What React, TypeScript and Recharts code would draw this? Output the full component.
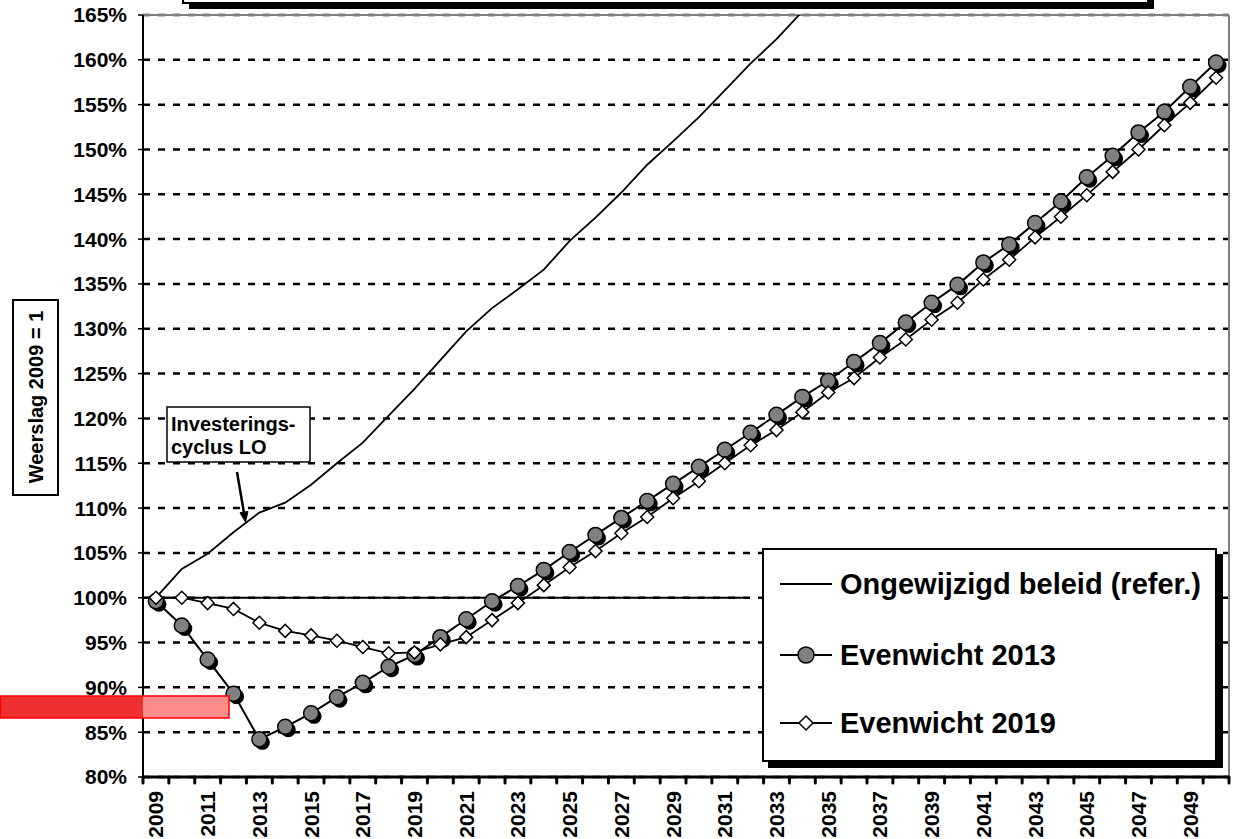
import React from 'react';
import { LineChart, Line, XAxis, YAxis, CartesianGrid, ReferenceLine, Legend } from 'recharts';

const FONT = '"Liberation Sans", Arial, sans-serif';

const years = [
  2009, 2010, 2011, 2012, 2013, 2014, 2015, 2016, 2017, 2018, 2019, 2020, 2021, 2022,
  2023, 2024, 2025, 2026, 2027, 2028, 2029, 2030, 2031, 2032, 2033, 2034, 2035, 2036,
  2037, 2038, 2039, 2040, 2041, 2042, 2043, 2044, 2045, 2046, 2047, 2048, 2049, 2050,
];

// Ongewijzigd beleid (refer.) - leaves the plot at the top around 2034
const ongewijzigd = [
  100, 103.2, 104.9, 107.3, 109.5, 110.6, 112.6, 115.0, 117.3, 120.3, 123.3, 126.5, 129.7, 132.3,
  134.4, 136.6, 139.8, 142.4, 145.2, 148.3, 150.9, 153.6, 156.6, 159.6, 162.3, 165.4, 168.5, null,
  null, null, null, null, null, null, null, null, null, null, null, null, null, null,
];

const evenwicht2013 = [
  99.6, 96.9, 93.1, 89.3, 84.2, 85.6, 87.1, 88.9, 90.5, 92.3, 93.6, 95.6, 97.6, 99.6,
  101.3, 103.1, 105.1, 107.0, 108.9, 110.8, 112.7, 114.6, 116.5, 118.4, 120.4, 122.4, 124.2, 126.3,
  128.4, 130.7, 132.9, 134.9, 137.4, 139.4, 141.8, 144.2, 146.9, 149.3, 151.9, 154.2, 157.0, 159.7,
];

const evenwicht2019 = [
  100, 100, 99.4, 98.75, 97.2, 96.3, 95.8, 95.2, 94.5, 93.8, 93.9, 94.8, 95.6, 97.5,
  99.4, 101.4, 103.4, 105.2, 107.2, 109.0, 111.1, 113.0, 115.0, 117.0, 118.7, 120.7, 122.9, 124.5,
  126.8, 128.8, 131.0, 132.9, 135.5, 137.7, 140.2, 142.5, 144.9, 147.5, 150.0, 152.7, 155.2, 158.0,
];

const labelYears = [
  2009, 2011, 2013, 2015, 2017, 2019, 2021, 2023, 2025, 2027, 2029,
  2031, 2033, 2035, 2037, 2039, 2041, 2043, 2045, 2047, 2049,
];

const yTicks = [80, 85, 90, 95, 100, 105, 110, 115, 120, 125, 130, 135, 140, 145, 150, 155, 160, 165];

const data = years.map((year, i) => ({
  year,
  ref: ongewijzigd[i],
  e2013: evenwicht2013[i],
  e2019: evenwicht2019[i],
}));

// tick marks sit between the years, labels on every other year
const boundaryTicks = years.map((y) => y - 0.5).concat([years[years.length - 1] + 0.5]);
const xTicks = [...boundaryTicks, ...labelYears];

const XTick = (props: any) => {
  const { x, y, payload } = props;
  const v = payload.value;
  if (v % 1 !== 0) {
    return <line x1={x} y1={y} x2={x} y2={y + 6} stroke="#000" strokeWidth={3} strokeLinecap="round" />;
  }
  const ty = y + 14;
  return (
    <text
      x={x}
      y={ty}
      transform={`rotate(-90 ${x} ${ty})`}
      textAnchor="end"
      dominantBaseline="central"
      fontFamily={FONT}
      fontWeight="bold"
      fontSize={21}
      fill="#000"
    >
      {v}
    </text>
  );
};

const CircleDot = (props: any) => {
  const { cx, cy } = props;
  if (cx == null || cy == null) return null;
  return (
    <g>
      <circle cx={cx + 3} cy={cy + 3} r={7.5} fill="#000" />
      <circle cx={cx} cy={cy} r={7.5} fill="#808080" stroke="#000" strokeWidth={1.5} />
    </g>
  );
};

const DiamondDot = (props: any) => {
  const { cx, cy } = props;
  if (cx == null || cy == null) return null;
  const s = 6.5;
  return (
    <polygon
      points={`${cx},${cy - s} ${cx + s},${cy} ${cx},${cy + s} ${cx - s},${cy}`}
      fill="#fff"
      stroke="#000"
      strokeWidth={1.5}
    />
  );
};

const renderLegend = () => (
  <div
    style={{
      width: 455,
      height: 214,
      boxSizing: 'border-box',
      border: '2px solid #000',
      background: '#fff',
      boxShadow: '6px 6px 0 #000',
    }}
  >
    <svg width={451} height={210} style={{ display: 'block' }}>
      <g fontFamily={FONT} fontWeight="bold" fontSize={29} fill="#000">
        <line x1={16} y1={34} x2={68} y2={34} stroke="#000" strokeWidth={2} />
        <text x={76} y={34} dominantBaseline="central">Ongewijzigd beleid (refer.)</text>

        <line x1={16} y1={105} x2={68} y2={105} stroke="#000" strokeWidth={2} />
        <circle cx={42} cy={105} r={8} fill="#808080" stroke="#000" strokeWidth={1.5} />
        <text x={76} y={105} dominantBaseline="central">Evenwicht 2013</text>

        <line x1={16} y1={173} x2={68} y2={173} stroke="#000" strokeWidth={2} />
        <polygon points="42,166 49,173 42,180 35,173" fill="#fff" stroke="#000" strokeWidth={1.5} />
        <text x={76} y={173} dominantBaseline="central">Evenwicht 2019</text>
      </g>
    </svg>
  </div>
);

export default function App() {
  return (
    <div
      style={{
        position: 'absolute',
        left: 0,
        top: 0,
        width: 1233,
        height: 839,
        background: '#fff',
        overflow: 'hidden',
        fontFamily: FONT,
      }}
    >
      <LineChart width={1233} height={839} data={data} margin={{ top: 15, right: 4, left: 0, bottom: 0 }}>
        <CartesianGrid vertical={false} stroke="#000" strokeWidth={2.5} strokeDasharray="7 8" />
        <XAxis
          dataKey="year"
          type="number"
          domain={[2008.5, 2050.5]}
          ticks={xTicks}
          interval={0}
          height={62}
          tickSize={0}
          tickMargin={0}
          tickLine={false}
          axisLine={{ stroke: '#000', strokeWidth: 3 }}
          tick={<XTick />}
        />
        <YAxis
          domain={[80, 165]}
          ticks={yTicks}
          interval={0}
          allowDataOverflow
          width={143}
          tickSize={5}
          tickMargin={11}
          tickFormatter={(v: number) => `${v}%`}
          tickLine={{ stroke: '#000', strokeWidth: 1.5 }}
          axisLine={{ stroke: '#000', strokeWidth: 2 }}
          tick={{ fill: '#000', fontSize: 21, fontWeight: 'bold', fontFamily: FONT }}
        />
        <ReferenceLine y={165} stroke="#808080" strokeWidth={2} />
        <ReferenceLine x={2050.5} stroke="#808080" strokeWidth={2} />
        <ReferenceLine
          segment={[
            { x: 2008.5, y: 100 },
            { x: 2031.8, y: 100 },
          ]}
          stroke="#000"
          strokeWidth={2}
        />
        <Legend
          layout="vertical"
          align="center"
          verticalAlign="middle"
          content={renderLegend}
          wrapperStyle={{ left: 762, top: 548, width: 461, height: 220 }}
        />
        <Line
          dataKey="ref"
          name="Ongewijzigd beleid (refer.)"
          stroke="#000"
          strokeWidth={1.8}
          dot={false}
          isAnimationActive={false}
        />
        <Line
          dataKey="e2013"
          name="Evenwicht 2013"
          stroke="#000"
          strokeWidth={2}
          dot={<CircleDot />}
          isAnimationActive={false}
        />
        <Line
          dataKey="e2019"
          name="Evenwicht 2019"
          stroke="#000"
          strokeWidth={1.8}
          dot={<DiamondDot />}
          isAnimationActive={false}
        />
      </LineChart>

      <svg
        width={1233}
        height={839}
        style={{ position: 'absolute', left: 0, top: 0, pointerEvents: 'none' }}
      >
        {/* cropped title box */}
        <rect x={189} y={-34} width={965} height={43} fill="#000" />
        <rect x={183} y={-40} width={965} height={43} fill="#fff" stroke="#000" strokeWidth={2} />

        {/* y axis label */}
        <rect x={13} y={300} width={45} height={195} fill="#fff" stroke="#000" strokeWidth={2} />
        <text
          x={36}
          y={397}
          transform="rotate(-90 36 397)"
          textAnchor="middle"
          dominantBaseline="central"
          fontFamily={FONT}
          fontWeight="bold"
          fontSize={20}
          fill="#000"
        >
          Weerslag 2009 = 1
        </text>

        {/* annotation */}
        <rect x={167} y={407} width={143} height={55} fill="#fff" stroke="#000" strokeWidth={1.5} />
        <text x={171} y={431} fontFamily={FONT} fontWeight="bold" fontSize={20} fill="#000">
          Investerings-
        </text>
        <text x={171} y={454} fontFamily={FONT} fontWeight="bold" fontSize={20} fill="#000">
          cyclus LO
        </text>
        <line x1={237} y1={472} x2={244} y2={513} stroke="#000" strokeWidth={2.5} />
        <polygon points="245.5,522 248,511.5 240,512.7" fill="#000" stroke="#000" strokeWidth={1} />

        {/* red marker */}
        <rect x={0} y={696} width={143} height={22} fill="#ee3030" />
        <rect x={143} y={696} width={86} height={22} fill="#ff8c8c" />
        <rect x={0.5} y={696} width={228.5} height={22} fill="none" stroke="#ff0000" strokeWidth={1.5} />
      </svg>
    </div>
  );
}
